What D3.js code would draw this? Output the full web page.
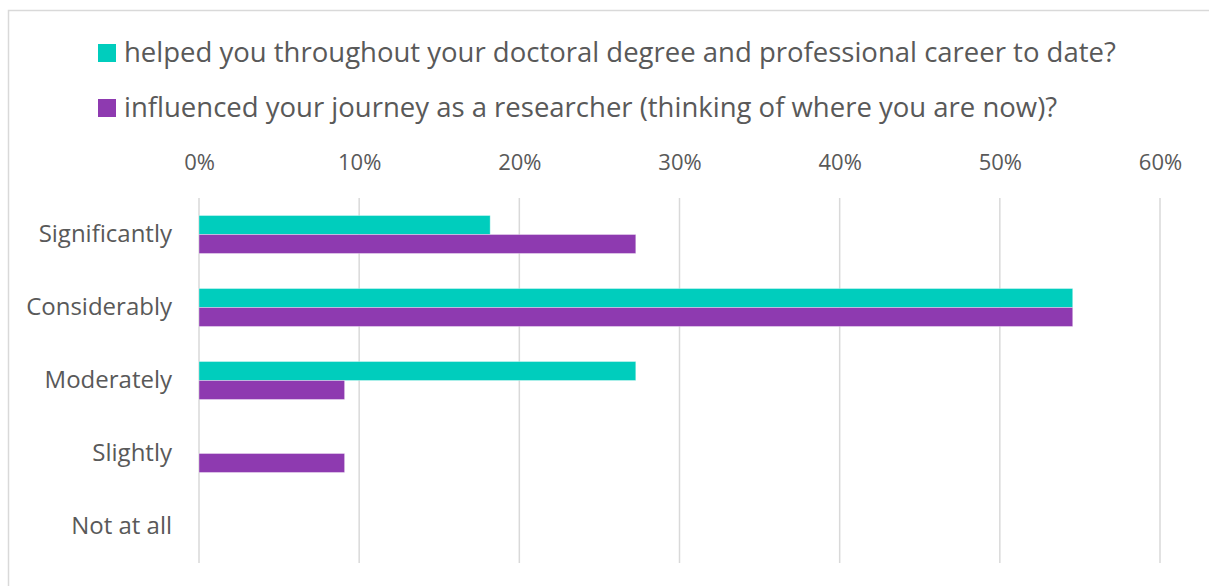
<!DOCTYPE html>
<html>
<head>
<meta charset="utf-8">
<script src="https://cdn.jsdelivr.net/npm/d3@7"></script>
<style>
  body { margin: 0; background: #fff; }
  svg { display: block; }
  text { font-family: "Open Sans", "Noto Sans", sans-serif; fill: #595959; }
</style>
</head>
<body>
<div id="chart"></div>
<script>
var categories = ["Significantly", "Considerably", "Moderately", "Slightly", "Not at all"];
var seriesNames = [
  "helped you throughout your doctoral degree and professional career to date?",
  "influenced your journey as a researcher (thinking of where you are now)?"
];
var helpedValues = [18.18, 54.55, 27.27, 0, 0];
var influencedValues = [27.27, 54.55, 9.09, 9.09, 0];
var tickValues = [0, 10, 20, 30, 40, 50, 60];
var colors = ["#00CDBD", "#8E3AB0"];

var width = 1209, height = 586;
var margin = {top: 198, left: 199, right: 49, bottom: 23};

var svg = d3.select("#chart").append("svg")
  .attr("width", width).attr("height", height);

// chart area border (runs off the page on the right and bottom)
svg.append("rect")
  .attr("x", 8.5).attr("y", 10.5)
  .attr("width", width + 20).attr("height", height + 20)
  .attr("fill", "none").attr("stroke", "#d9d9d9").attr("stroke-width", 1.5);

var x = d3.scaleLinear().domain([0, 60]).range([margin.left, width - margin.right]);
var y = d3.scaleBand().domain(categories).range([margin.top, height - margin.bottom]).paddingInner(0.48).paddingOuter(0.24);
var y2 = d3.scaleBand().domain([0, 1]).range([0, y.bandwidth()]);

// gridlines
svg.append("g").selectAll("line")
  .data(tickValues).enter().append("line")
  .attr("x1", function(d) { return x(d); })
  .attr("x2", function(d) { return x(d); })
  .attr("y1", margin.top).attr("y2", height - margin.bottom)
  .attr("stroke", "#d9d9d9").attr("stroke-width", 1.5);

// top axis labels
var xAxis = svg.append("g")
  .attr("transform", "translate(0," + 162 + ")")
  .call(d3.axisTop(x).tickValues(tickValues).tickSize(0).tickPadding(0).tickFormat(function(d) { return d + "%"; }));
xAxis.select(".domain").remove();
xAxis.selectAll("text").attr("font-size", 22).attr("fill", "#595959").attr("font-family", null)
  .attr("dy", "0.35em");

// category labels
var yAxis = svg.append("g")
  .attr("transform", "translate(" + 172 + ",0)")
  .call(d3.axisLeft(y).tickSize(0).tickPadding(0));
yAxis.select(".domain").remove();
yAxis.selectAll("text").attr("font-size", 24).attr("fill", "#595959").attr("font-family", null)
  .attr("dy", "0.3em");

// bars
var series = [helpedValues, influencedValues];
series.forEach(function(vals, s) {
  svg.append("g").selectAll("rect")
    .data(vals.map(function(v, i) { return {cat: categories[i], v: v}; }).filter(function(d) { return d.v > 0; }))
    .enter().append("rect")
    .attr("x", x(0))
    .attr("y", function(d) { return y(d.cat) + y2(s); })
    .attr("width", function(d) { return x(d.v) - x(0); })
    .attr("height", y2.bandwidth())
    .attr("fill", colors[s])
    .attr("stroke", "#ffffff").attr("stroke-opacity", 0.35).attr("stroke-width", 1);
});

// legend
var legend = svg.append("g");
seriesNames.forEach(function(name, i) {
  var ly = 53 + i * 55;
  legend.append("rect")
    .attr("x", 98).attr("y", ly - 9)
    .attr("width", 18).attr("height", 18)
    .attr("fill", colors[i]);
  legend.append("text")
    .attr("x", 124).attr("y", ly)
    .attr("dy", "0.33em")
    .attr("font-size", 27.5)
    .text(name);
});
</script>
</body>
</html>
